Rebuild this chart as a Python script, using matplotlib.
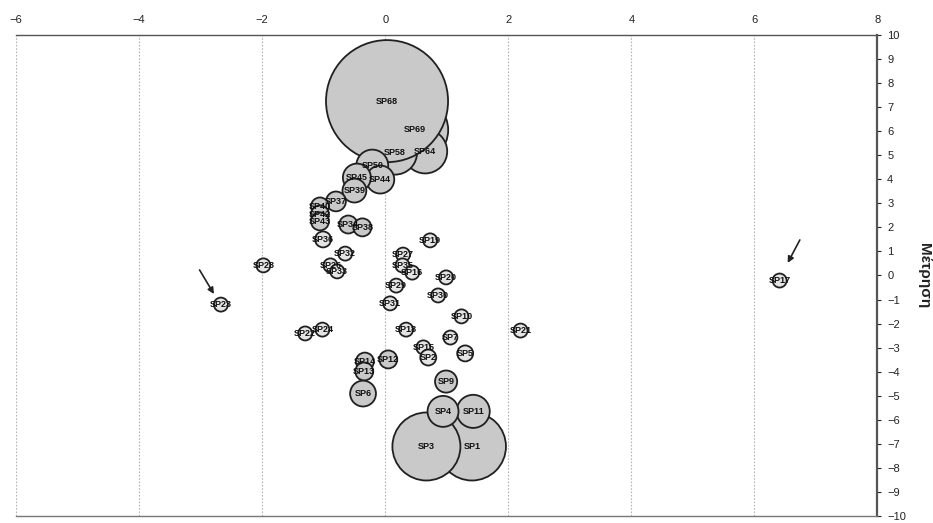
import matplotlib
matplotlib.use("Agg")
import matplotlib.pyplot as plt
import numpy as np

plt.rcParams['font.family'] = ['Liberation Sans', 'DejaVu Sans']

# ---- data (drawing order: back to front) ----
labels = ["SP69", "SP64", "SP58", "SP68", "SP50", "SP44", "SP45", "SP39", "SP37",
          "SP40", "SP42", "SP43", "SP34", "SP38", "SP36", "SP32", "SP26", "SP33",
          "SP28", "SP23", "SP19", "SP27", "SP35", "SP16", "SP20", "SP29", "SP30",
          "SP31", "SP10", "SP18", "SP7", "SP21", "SP22", "SP24", "SP15", "SP2",
          "SP5", "SP12", "SP14", "SP13", "SP9", "SP6", "SP1", "SP3", "SP11", "SP4",
          "SP17"]
x_vals = [0.49, 0.65, 0.16, 0.03, -0.21, -0.08, -0.46, -0.50, -0.80,
          -1.06, -1.06, -1.06, -0.60, -0.37, -1.01, -0.65, -0.89, -0.78,
          -1.98, -2.67, 0.73, 0.29, 0.28, 0.44, 0.99, 0.18, 0.86,
          0.08, 1.24, 0.34, 1.06, 2.20, -1.30, -1.02, 0.62, 0.70,
          1.30, 0.05, -0.33, -0.34, 0.99, -0.36, 1.41, 0.67, 1.43, 0.94,
          6.41]
y_vals = [6.05, 5.16, 5.11, 7.25, 4.57, 3.99, 4.07, 3.53, 3.08,
          2.87, 2.54, 2.25, 2.12, 2.00, 1.50, 0.91, 0.42, 0.17,
          0.42, -1.21, 1.46, 0.87, 0.42, 0.12, -0.08, -0.42, -0.83,
          -1.16, -1.70, -2.25, -2.58, -2.29, -2.41, -2.25, -2.99, -3.41,
          -3.24, -3.49, -3.58, -3.99, -4.41, -4.91, -7.11, -7.11, -5.65, -5.65,
          -0.21]
weights = [22.0, 9.9, 9.9, 76.0, 5.2, 4.0, 4.0, 2.9, 2.0,
           1.65, 1.65, 1.65, 1.65, 1.65, 1.3, 1.0, 1.0, 1.0,
           1.0, 1.0, 1.0, 1.0, 1.0, 1.0, 1.0, 1.0, 1.0,
           1.0, 1.0, 1.0, 1.0, 1.0, 1.0, 1.0, 1.0, 1.3,
           1.3, 1.65, 1.65, 1.65, 2.5, 3.4, 23.6, 23.6, 5.6, 4.9,
           1.0]
x_ticks = [-6, -4, -2, 0, 2, 4, 6, 8]
y_ticks = list(range(-10, 11))
y_label = "Μέτρηση"
arrows = [((-3.04, 0.33), (-2.76, -0.87)), ((6.76, 1.58), (6.52, 0.42))]

fig = plt.figure(figsize=(9.33, 5.23), dpi=100)
ax = fig.add_axes([0.01715, 0.0134, 0.9233, 0.9197])

ax.set_xlim(-6, 8)
ax.set_ylim(-10, 10)

# grid lines (vertical, dotted)
for xv in x_ticks[:-1]:
    ax.axvline(xv, color='#b5b5b5', lw=0.8, ls=(0, (1.5, 1.5)), zorder=0)

base_s = 101.6
w = np.array(weights)
faces = np.where(w <= 1.3, '#e4e4e4', '#c9c9c9')
ax.scatter(x_vals, y_vals, s=w * base_s, c=list(faces),
           edgecolor='#202020', linewidth=1.3, zorder=2)
for lab, xv, yv in zip(labels, x_vals, y_vals):
    ax.text(xv, yv, lab, ha='center', va='center', fontsize=6.5,
            fontweight='bold', color='#111111', zorder=3)

for (x0, y0), (x1, y1) in arrows:
    ax.annotate("", xy=(x1, y1), xytext=(x0, y0),
                arrowprops=dict(arrowstyle='-|>', color='#222222', lw=1.2,
                                mutation_scale=9), zorder=4)

# spines
ax.spines['left'].set_visible(False)
ax.spines['top'].set_linestyle((0, (2, 1)))
ax.spines['top'].set_color('#555555')
ax.spines['top'].set_linewidth(1.0)
ax.spines['bottom'].set_linestyle((0, (2, 1)))
ax.spines['bottom'].set_color('#777777')
ax.spines['bottom'].set_linewidth(1.0)
ax.spines['right'].set_color('#555555')
ax.spines['right'].set_linewidth(1.6)

ax.xaxis.tick_top()
ax.set_xticks(x_ticks)
ax.set_xticklabels([str(v).replace('-', '\u2212') for v in x_ticks])
ax.tick_params(axis='x', length=0, pad=7, labelsize=8, colors='#222222')

ax.yaxis.tick_right()
ax.set_yticks(y_ticks)
ax.set_yticklabels([str(v).replace('-', '\u2212') for v in y_ticks])
ax.tick_params(axis='y', length=3, width=0.8, pad=4, labelsize=8, colors='#222222')

ax.yaxis.set_label_position('right')
ax.set_ylabel(y_label, rotation=-90, fontsize=11, fontweight='bold',
              labelpad=18, color='#222222')

fig.savefig("out.png", dpi=100)
